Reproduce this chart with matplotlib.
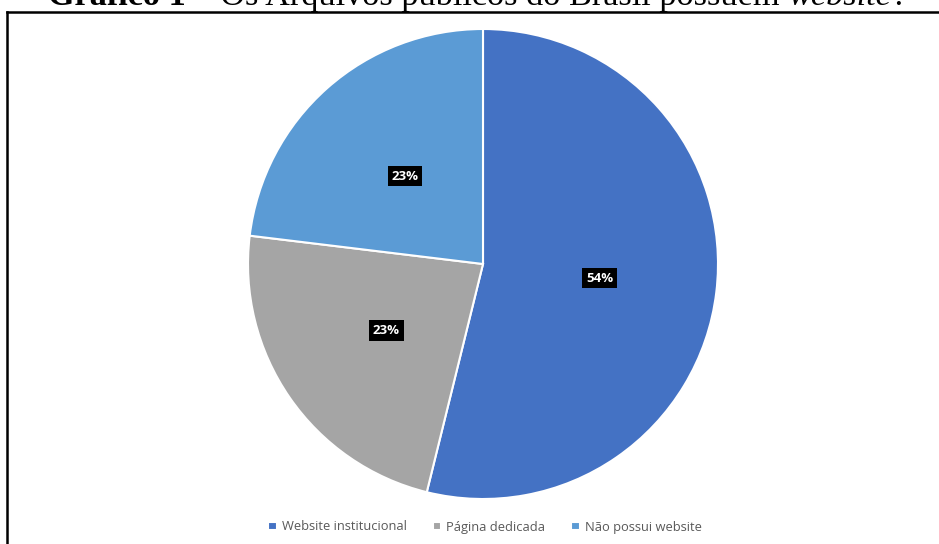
import matplotlib
matplotlib.use("Agg")
import matplotlib.pyplot as plt
from matplotlib.lines import Line2D

categories = ["Website institucional", "Página dedicada", "Não possui website"]
counts = [14, 6, 6]
colors = ["#4472C4", "#A5A5A5", "#5B9BD5"]
title_parts = [("Gráfico 1", "bold", "normal"),
               (" – Os Arquivos públicos do Brasil possuem ", "normal", "normal"),
               ("website", "normal", "italic"),
               ("?", "normal", "normal")]

W, H = 939, 544
fig = plt.figure(figsize=(W / 100, H / 100), dpi=100)

cx, cy, r = 483, 264, 235
ax = fig.add_axes([(cx - r) / W, (H - cy - r) / H, 2 * r / W, 2 * r / H])
wedges, texts, autotexts = ax.pie(
    counts, colors=colors, startangle=90, counterclock=False,
    autopct=lambda p: f"{p:.0f}%", pctdistance=0.5,
    wedgeprops=dict(edgecolor="white", linewidth=1.5))
for t in autotexts:
    t.set_color("white")
    t.set_fontweight("bold")
    t.set_fontsize(9.5)
    t.set_fontfamily("Open Sans")
    t.set_bbox(dict(facecolor="black", edgecolor="none", pad=2.8))
ax.set_xlim(-1, 1)
ax.set_ylim(-1, 1)
ax.set_aspect("equal")
ax.axis("off")

leg = fig.legend(wedges, categories, loc="center", bbox_to_anchor=(485 / W, 1 - 527 / H),
                 ncol=3, frameon=False, handlelength=0.65, handleheight=0.65,
                 handletextpad=0.4, columnspacing=2.0,
                 prop=dict(family="Open Sans", size=9.3))
for t in leg.get_texts():
    t.set_color("#595959")

# frame
fig.add_artist(Line2D([7 / W, 1.0], [1 - 12 / H, 1 - 12 / H], transform=fig.transFigure,
                      color="black", linewidth=1.8))
fig.add_artist(Line2D([7 / W, 7 / W], [0, 1 - 12 / H], transform=fig.transFigure,
                      color="black", linewidth=1.8))

# title (partially clipped at top)
fig.canvas.draw()
renderer = fig.canvas.get_renderer()
x = 48
for txt, weight, style in title_parts:
    t = fig.text(x / W, 1 - 5 / H, txt, fontsize=24.7, fontweight=weight, fontstyle=style,
                 family="Liberation Serif", va="baseline", ha="left")
    bb = t.get_window_extent(renderer)
    x += bb.width

fig.savefig("out.png", dpi=100)
